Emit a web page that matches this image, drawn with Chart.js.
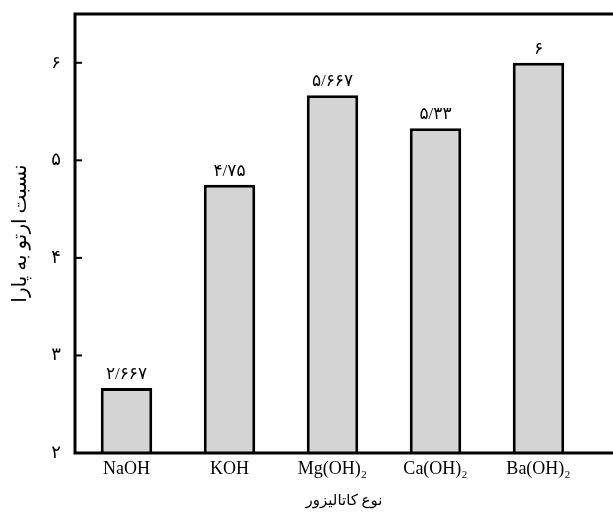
<!DOCTYPE html>
<html>
<head>
<meta charset="utf-8">
<script src="https://cdn.jsdelivr.net/npm/chart.js@4"></script>
<style>
body{margin:0;background:#fff;}
#wrap{width:613px;height:528px;}
</style>
</head>
<body>
<div id="wrap"><canvas id="grafico"></canvas></div>
<script>
// Dados
const catalisadores = ["NaOH", "KOH", "Mg(OH)\u2082", "Ca(OH)\u2082", "Ba(OH)\u2082"];
const razao = [2.667, 4.75, 5.667, 5.33, 6];
const ticksY = [2, 3, 4, 5, 6];
const tituloX = "نوع کاتالیزور";
const tituloY = "نسبت ارتو به پارا";

function fa(v){
const d = "۰۱۲۳۴۵۶۷۸۹";
return String(v).replace(/[0-9]/g, c => d[c]).replace(".", "/");
}

const serif = "'Liberation Serif', 'DejaVu Sans', serif";

// moldura + ticks para dentro + rotulos
const moldura = {
id:"moldura",
afterDatasetsDraw(chart){
const c = chart.ctx, a = chart.chartArea, W = chart.width;
const y = chart.scales.y;
c.save();
c.strokeStyle = "#000";
c.lineWidth = 3;
c.beginPath();
c.moveTo(W, a.top); c.lineTo(a.left, a.top);
c.lineTo(a.left, a.bottom); c.lineTo(W, a.bottom);
c.stroke();
c.lineWidth = 2;
ticksY.forEach(t=>{
const py = y.getPixelForValue(t);
c.beginPath(); c.moveTo(a.left, py); c.lineTo(a.left + 7, py); c.stroke();
});
c.fillStyle = "#000";
c.font = "17px " + serif;
c.textAlign = "center";
c.textBaseline = "bottom";
chart.getDatasetMeta(0).data.forEach((b, i)=>{
c.fillText(fa(razao[i]), b.x, b.y - 5);
});
// titulo do eixo x, centrado na linha do eixo inteira
c.font = "15px " + serif;
c.textBaseline = "middle";
c.fillText(tituloX, (a.left + W) / 2, 501);
c.restore();
}
};

new Chart(document.getElementById("grafico"),{
type:"bar",
data:{
labels: catalisadores,
datasets:[{
data: razao,
backgroundColor:"#d4d4d4",
borderColor:"#000",
borderWidth:3,
borderSkipped:false,
categoryPercentage:1,
barPercentage:0.5
}]
},
options:{
responsive:true,
maintainAspectRatio:false,
animation:false,
layout:{padding:{top:14, right:23}},
plugins:{legend:{display:false}, tooltip:{enabled:false}},
scales:{
x:{
grid:{display:false, drawTicks:false},
border:{display:false},
ticks:{color:"#000", font:{family:serif, size:18}, padding:5},
afterFit(s){ s.height = 75; s.paddingLeft = 0; s.paddingRight = 0; }
},
y:{
min:2, max:6.5,
afterBuildTicks(s){ s.ticks = ticksY.map(v=>({value:v})); },
grid:{display:false, drawTicks:false},
border:{display:false},
ticks:{color:"#000", font:{family:serif, size:18}, padding:14,
callback:v => fa(v)},
title:{display:true, text:tituloY, color:"#000", font:{family:serif, size:20}, padding:{top:9, bottom:0}},
afterFit(s){ s.width = 75; s.paddingTop = 0; s.paddingBottom = 0; }
}
}
},
plugins:[moldura]
});
</script>
</body>
</html>
